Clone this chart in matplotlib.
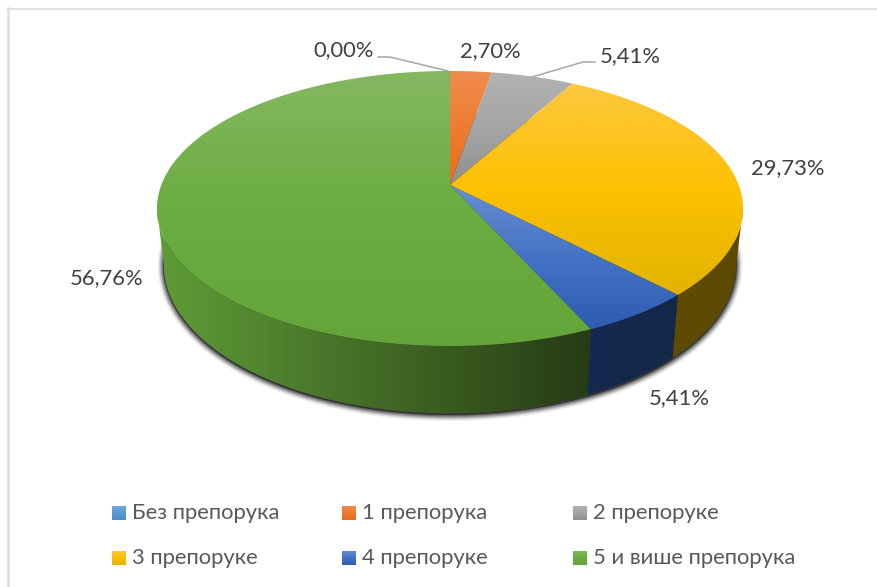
import numpy as np
import matplotlib
matplotlib.use('Agg')
import matplotlib.pyplot as plt
from matplotlib.colors import LinearSegmentedColormap
from matplotlib.patches import Polygon

plt.rcParams['font.family'] = ['Lato', 'Noto Sans', 'DejaVu Sans']

# data
categories = ['Без препорука', '1 препорука', '2 препоруке',
              '3 препоруке', '4 препоруке', '5 и више препорука']
values = [0.00, 2.70, 5.41, 29.73, 5.41, 56.76]
value_labels = ['0,00%', '2,70%', '5,41%', '29,73%', '5,41%', '56,76%']

# light / base / dark for every slice
top_colors = [('#74a9dc', '#5b9bd5', '#4a8ac5'),
              ('#f08c50', '#ed7d31', '#e56c1c'),
              ('#b2b2b2', '#a5a5a5', '#8f8f8f'),
              ('#fdc83f', '#fdc102', '#e2b300'),
              ('#6a8fd3', '#4472c4', '#2e5cae'),
              ('#85b862', '#6cad41', '#64a438')]
side_colors = [('#2a4a66', '#2a4a66'),
               ('#7a3c12', '#7a3c12'),
               ('#555555', '#555555'),
               ('#5f4b00', '#5c4900'),
               ('#152a50', '#132747'),
               ('#5f9c38', '#263b14')]
label_xy = [(344, 50), (490, 51), (630, 56), (788, 168), (679, 398), (107, 278)]
legend_xy = [(112, 513), (342, 513), (573, 513), (112, 558), (342, 558), (573, 558)]

fig = plt.figure(figsize=(8.78, 5.87), dpi=100)
ax = fig.add_axes([0, 0, 1, 1])


# перспектива: круг -> экран (угол по часовой от верха)
def rim(theta, b, a, yc, p=0.171):
    s = np.cos(theta)
    d = 1 + p * s
    return 450 + b * np.sin(theta) / d, yc - a * s / d


def top_rim(theta):
    return rim(theta, 288.7, 133.5, 185)


def bottom_rim(theta):
    return rim(theta, 282, 144.5, 239)


def fill_gradient(pts, stops, vertical=True):
    # градиент через imshow, обрезанный по многоугольнику
    pts = np.array(pts)
    cmap = LinearSegmentedColormap.from_list('g', stops)
    grad = np.linspace(0, 1, 256)
    grad = grad.reshape(-1, 1) if vertical else grad.reshape(1, -1)
    x0, x1, y0, y1 = pts[:, 0].min(), pts[:, 0].max(), pts[:, 1].min(), pts[:, 1].max()
    im = ax.imshow(grad, cmap=cmap, extent=(x0, x1, y1, y0), aspect='auto',
                   origin='upper', zorder=3, interpolation='bilinear')
    im.set_clip_path(Polygon(pts, closed=True, transform=ax.transData))
    return im


edges = np.deg2rad(np.concatenate([[0], np.cumsum(values)]) / 100 * 360)
wall_from, wall_to = np.deg2rad(99.8), np.deg2rad(260.2)

# рамка
ax.plot([8, 8], [587, 8], color='#dedede', lw=1.8, zorder=1)
ax.plot([7, 878], [8.5, 8.5], color='#d9d9d9', lw=1.1, zorder=1)

# тень под диском
t = np.linspace(0, 2 * np.pi, 361)
bx, by = bottom_rim(t)
for w, al in zip([9, 7, 5.5, 4, 2.5, 1.2], [0.07, 0.12, 0.17, 0.22, 0.28, 0.35]):
    ax.fill(bx, by + 1.5, facecolor='#222222', edgecolor='#222222', lw=w, alpha=al,
            zorder=2, joinstyle='round')
ax.fill(bx, by, color='#3c3c3c', zorder=2.5)

# боковые стенки
for i in range(len(values)):
    a0, a1 = max(edges[i], wall_from), min(edges[i + 1], wall_to)
    if a1 <= a0:
        continue
    tt = np.linspace(a0, a1, 120)
    tx, ty = top_rim(tt)
    ux, uy = bottom_rim(tt)
    pts = np.column_stack([np.r_[tx, ux[::-1]], np.r_[ty, uy[::-1]]])
    fill_gradient(pts, side_colors[i], vertical=False)

# верх
for i in range(len(values)):
    if values[i] == 0:
        continue
    tt = np.linspace(edges[i], edges[i + 1], 200)
    tx, ty = top_rim(tt)
    pts = np.column_stack([np.r_[450, tx], np.r_[185, ty]])
    fill_gradient(pts, top_colors[i])

# выноски
ax.plot([378, 390, 448], [57, 57, 71], color='#a6a6a6', lw=1.1, zorder=4)
ax.plot([595, 583, 532], [62, 62, 77], color='#a6a6a6', lw=1.1, zorder=4)

for lab, (x, y) in zip(value_labels, label_xy):
    ax.text(x, y, lab, ha='center', va='center', fontsize=15.8, color='#404040', zorder=5)

# легенда
for i, (x, y) in enumerate(legend_xy):
    sq = [(x, y - 7), (x + 14.5, y - 7), (x + 14.5, y + 7.5), (x, y + 7.5)]
    fill_gradient(sq, top_colors[i])
    ax.text(x + 20, y, categories[i], ha='left', va='center', fontsize=15.8, color='#595959', zorder=5)

ax.set_xlim(0, 878)
ax.set_ylim(587, 0)
ax.axis('off')
fig.savefig('out.png', dpi=100)
